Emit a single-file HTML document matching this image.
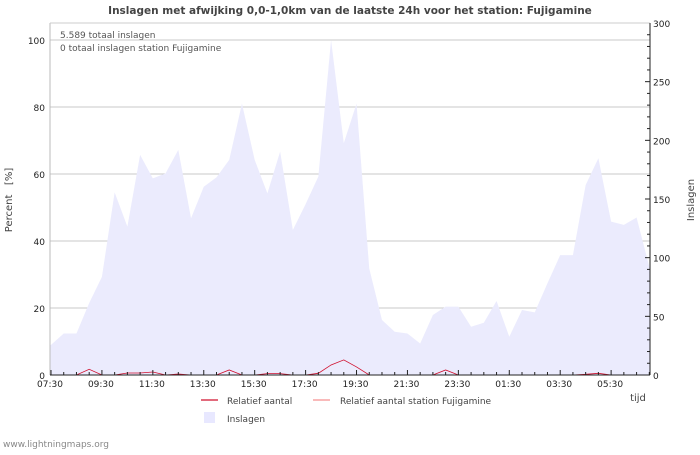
<!DOCTYPE html>
<html><head><meta charset="utf-8"><style>
body{margin:0;background:#fff;font-family:"Liberation Sans","DejaVu Sans",sans-serif;}
svg text{font-family:"DejaVu Sans","Liberation Sans",sans-serif;}
</style></head><body>
<svg id="chart" width="700" height="450" viewBox="0 0 700 450" xmlns="http://www.w3.org/2000/svg">
<rect width="700" height="450" fill="#fff"/>
<text x="350" y="14" text-anchor="middle" font-size="10.5" font-weight="bold" fill="#444">Inslagen met afwijking 0,0-1,0km van de laatste 24h voor het station: Fujigamine</text>
<g id="grid"></g>
<g id="area"></g>
<g id="lines"></g>
<g id="axes"></g>
<text x="60" y="38" font-size="9" fill="#555">5.589 totaal inslagen</text>
<text x="60" y="51" font-size="9" fill="#555">0 totaal inslagen station Fujigamine</text>
<text transform="translate(12,200) rotate(-90)" text-anchor="middle" font-size="10" fill="#444">Percent&#160;&#160;&#160;[%]</text>
<text transform="translate(694,200) rotate(-90)" text-anchor="middle" font-size="10" fill="#444">Inslagen</text>
<text x="638" y="401" text-anchor="middle" font-size="10" fill="#444">tijd</text>
<g font-size="9" fill="#444">
<line x1="201" y1="400" x2="218" y2="400" stroke="#d0102e" stroke-width="1.2"/>
<text x="227" y="404">Relatief aantal</text>
<line x1="313" y1="400" x2="330" y2="400" stroke="#f59090" stroke-width="1.2"/>
<text x="340" y="404">Relatief aantal station Fujigamine</text>
<rect x="204" y="412" width="11" height="11" fill="#e8e8ff"/>
<text x="227" y="422">Inslagen</text>
</g>
<text x="3" y="447" font-size="9" fill="#888">www.lightningmaps.org</text>
</svg>
<script>
const areaPct=[9,12.4,12.4,21.5,29.3,54.5,44.3,65.7,58.7,60.2,67.2,46.8,56.2,59,64.2,81,64.2,54.2,66.7,43.3,51,59.2,100,69.2,81,31.8,16.4,12.9,12.4,9.4,17.9,20.4,20.4,14.4,15.6,22.1,11.4,19.4,18.7,27.4,35.8,35.8,56.7,64.7,45.8,44.8,47,32.3];
const relPct=[0,0,0,1.7,0,0,0.6,0.6,0.9,0,0.3,0,0,0,1.5,0,0,0.4,0.4,0,0,0.5,3,4.5,2.4,0,0,0,0,0,0,1.5,0,0,0,0,0,0,0,0,0,0,0.2,0.5,0,0,0,0];
const leftTicks=[0,20,40,60,80,100];
const rightTicks=[0,50,100,150,200,250,300];
const xLabels=["07:30","09:30","11:30","13:30","15:30","17:30","19:30","21:30","23:30","01:30","03:30","05:30"];
const X0=51,DX=12.73,PX=25.46;
const xs=i=>X0+DX*i;
const yL=v=>375-v*3.35;
const yR=v=>375-v*(352/300);
const NS="http://www.w3.org/2000/svg";
function mk(tag,parent,attrs){const e=document.createElementNS(NS,tag);for(const k in attrs)e.setAttribute(k,attrs[k]);document.getElementById(parent).appendChild(e);return e;}
leftTicks.forEach(v=>{
 if(v>0){const g=mk('line','grid',{x1:50,x2:650,y1:yL(v),y2:yL(v),stroke:'#c8c8c8','stroke-width':1});
 
 }
 const t=mk('text','axes',{x:45,y:yL(v)+4,'text-anchor':'end','font-size':9,fill:'#222'});t.textContent=v;
 
 
});
for(let v=0;v<=300;v+=10){const len=v%50===0?5:3;mk('line','axes',{x1:650-len,x2:650,y1:yR(v),y2:yR(v),stroke:'#222'});}
rightTicks.forEach(v=>{const t=mk('text','axes',{x:653,y:yR(v)+4,'font-size':9,fill:'#222'});t.textContent=v;
 
 });
let d='M50,375 L50,'+yL(areaPct[0]);
areaPct.forEach((v,i)=>{d+=' L'+xs(i)+','+yL(v);});
d+=' L650,'+yL(areaPct[areaPct.length-1])+' L650,375 Z';
const a=mk('path','area',{d:d,fill:'#ebebfd'});


const pl=mk('polyline','lines',{points:relPct.map((v,i)=>xs(i)+','+yL(v)).join(' '),fill:'none',stroke:'#d0102e','stroke-width':0.8});


mk('line','axes',{x1:50,x2:50,y1:23,y2:375,stroke:'#bbb'});
mk('line','axes',{x1:50,x2:650,y1:23,y2:23,stroke:'#ccc'});
mk('line','axes',{x1:650,x2:650,y1:23,y2:375,stroke:'#222'});
mk('line','axes',{x1:50,x2:650,y1:375,y2:375,stroke:'#222'});
for(let i=0;i<48;i++){const x=X0+DX*i;const len=i%4===0?5:3;mk('line','axes',{x1:x,x2:x,y1:375,y2:375-len,stroke:'#222'});}
xLabels.forEach((s,i)=>{const t=mk('text','axes',{x:X0-1+PX*2*i,y:387,'text-anchor':'middle','font-size':9,fill:'#222'});t.textContent=s;
 
 });
</script>
</body></html>
